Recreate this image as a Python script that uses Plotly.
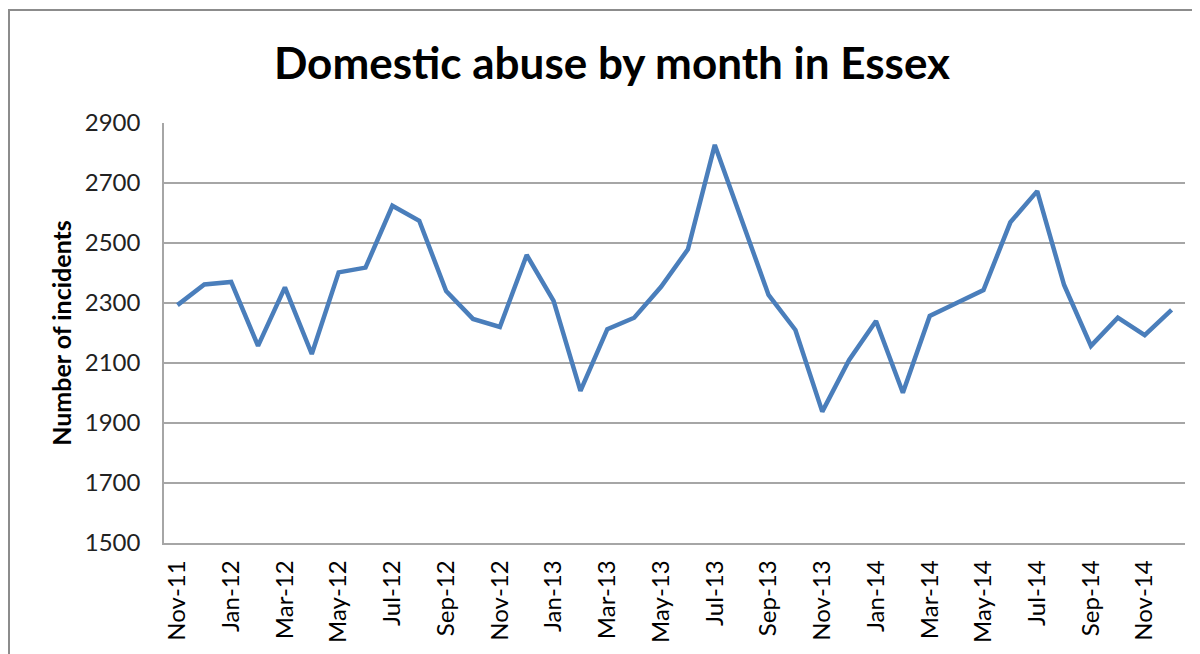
import plotly.graph_objects as go

months = ["Nov-11", "Dec-11",
          "Jan-12", "Feb-12", "Mar-12", "Apr-12", "May-12", "Jun-12",
          "Jul-12", "Aug-12", "Sep-12", "Oct-12", "Nov-12", "Dec-12",
          "Jan-13", "Feb-13", "Mar-13", "Apr-13", "May-13", "Jun-13",
          "Jul-13", "Aug-13", "Sep-13", "Oct-13", "Nov-13", "Dec-13",
          "Jan-14", "Feb-14", "Mar-14", "Apr-14", "May-14", "Jun-14",
          "Jul-14", "Aug-14", "Sep-14", "Oct-14", "Nov-14", "Dec-14"]

incidents = [2293, 2362,
             2370, 2157, 2352, 2130, 2402, 2418,
             2624, 2574, 2340, 2247, 2220, 2460,
             2307, 2007, 2213, 2251, 2354, 2479,
             2827, 2577, 2327, 2210, 1938, 2110,
             2240, 2001, 2257, 2300, 2343, 2569,
             2673, 2360, 2157, 2251, 2193, 2277]

tick_labels = months[::2]
y_ticks = [1500, 1700, 1900, 2100, 2300, 2500, 2700, 2900]

fig = go.Figure()
fig.add_trace(go.Scatter(
    x=months, y=incidents, mode="lines",
    line=dict(color="#4A7EBB", width=4.5),
    hoverinfo="x+y",
))

font = "Lato, 'Open Sans', sans-serif"
# page body has an 8px margin; margins compensate for it
L, T, PW, PH = 156, 115, 1021, 420
fig.update_layout(
    width=1200, height=654,
    margin=dict(l=L, r=1200 - L - PW, t=T, b=654 - T - PH),
    paper_bgcolor="white", plot_bgcolor="white",
    showlegend=False,
    title=dict(text="<b>Domestic abuse by month in Essex</b>",
               x=(612 - 8) / 1200, xanchor="center",
               y=1 - (64 - 8) / 654, yanchor="middle",
               font=dict(family=font, size=44, color="black")),
    xaxis=dict(
        type="category", categoryorder="array", categoryarray=months,
        range=[-0.5, len(months) - 0.5],
        tickmode="array", tickvals=tick_labels, ticktext=tick_labels,
        tickangle=-90, showgrid=False,
        showline=True, linecolor="#A6A6A6", linewidth=1.5,
        ticks="", ticklabelstandoff=6,
        tickfont=dict(family=font, size=24, color="black"),
    ),
    yaxis=dict(
        range=[1500, 2900], tickvals=y_ticks,
        showgrid=True, gridcolor="#A6A6A6", gridwidth=1.5,
        showline=True, linecolor="#A6A6A6", linewidth=1.5,
        zeroline=False, ticks="", ticklabelstandoff=17,
        tickfont=dict(family=font, size=24, color="#222222"),
        title=dict(text="<b>Number of incidents</b>", standoff=6,
                   font=dict(family=font, size=25, color="black")),
    ),
    shapes=[dict(type="rect", xref="paper", yref="paper",
                 x0=(9 - 8 - L) / PW, x1=(1215 - 8 - L) / PW,
                 y0=(543 - 680) / PH, y1=(543 - 10) / PH,
                 line=dict(color="#8C8C8C", width=2), layer="below")],
)

fig.write_html("out.html")
